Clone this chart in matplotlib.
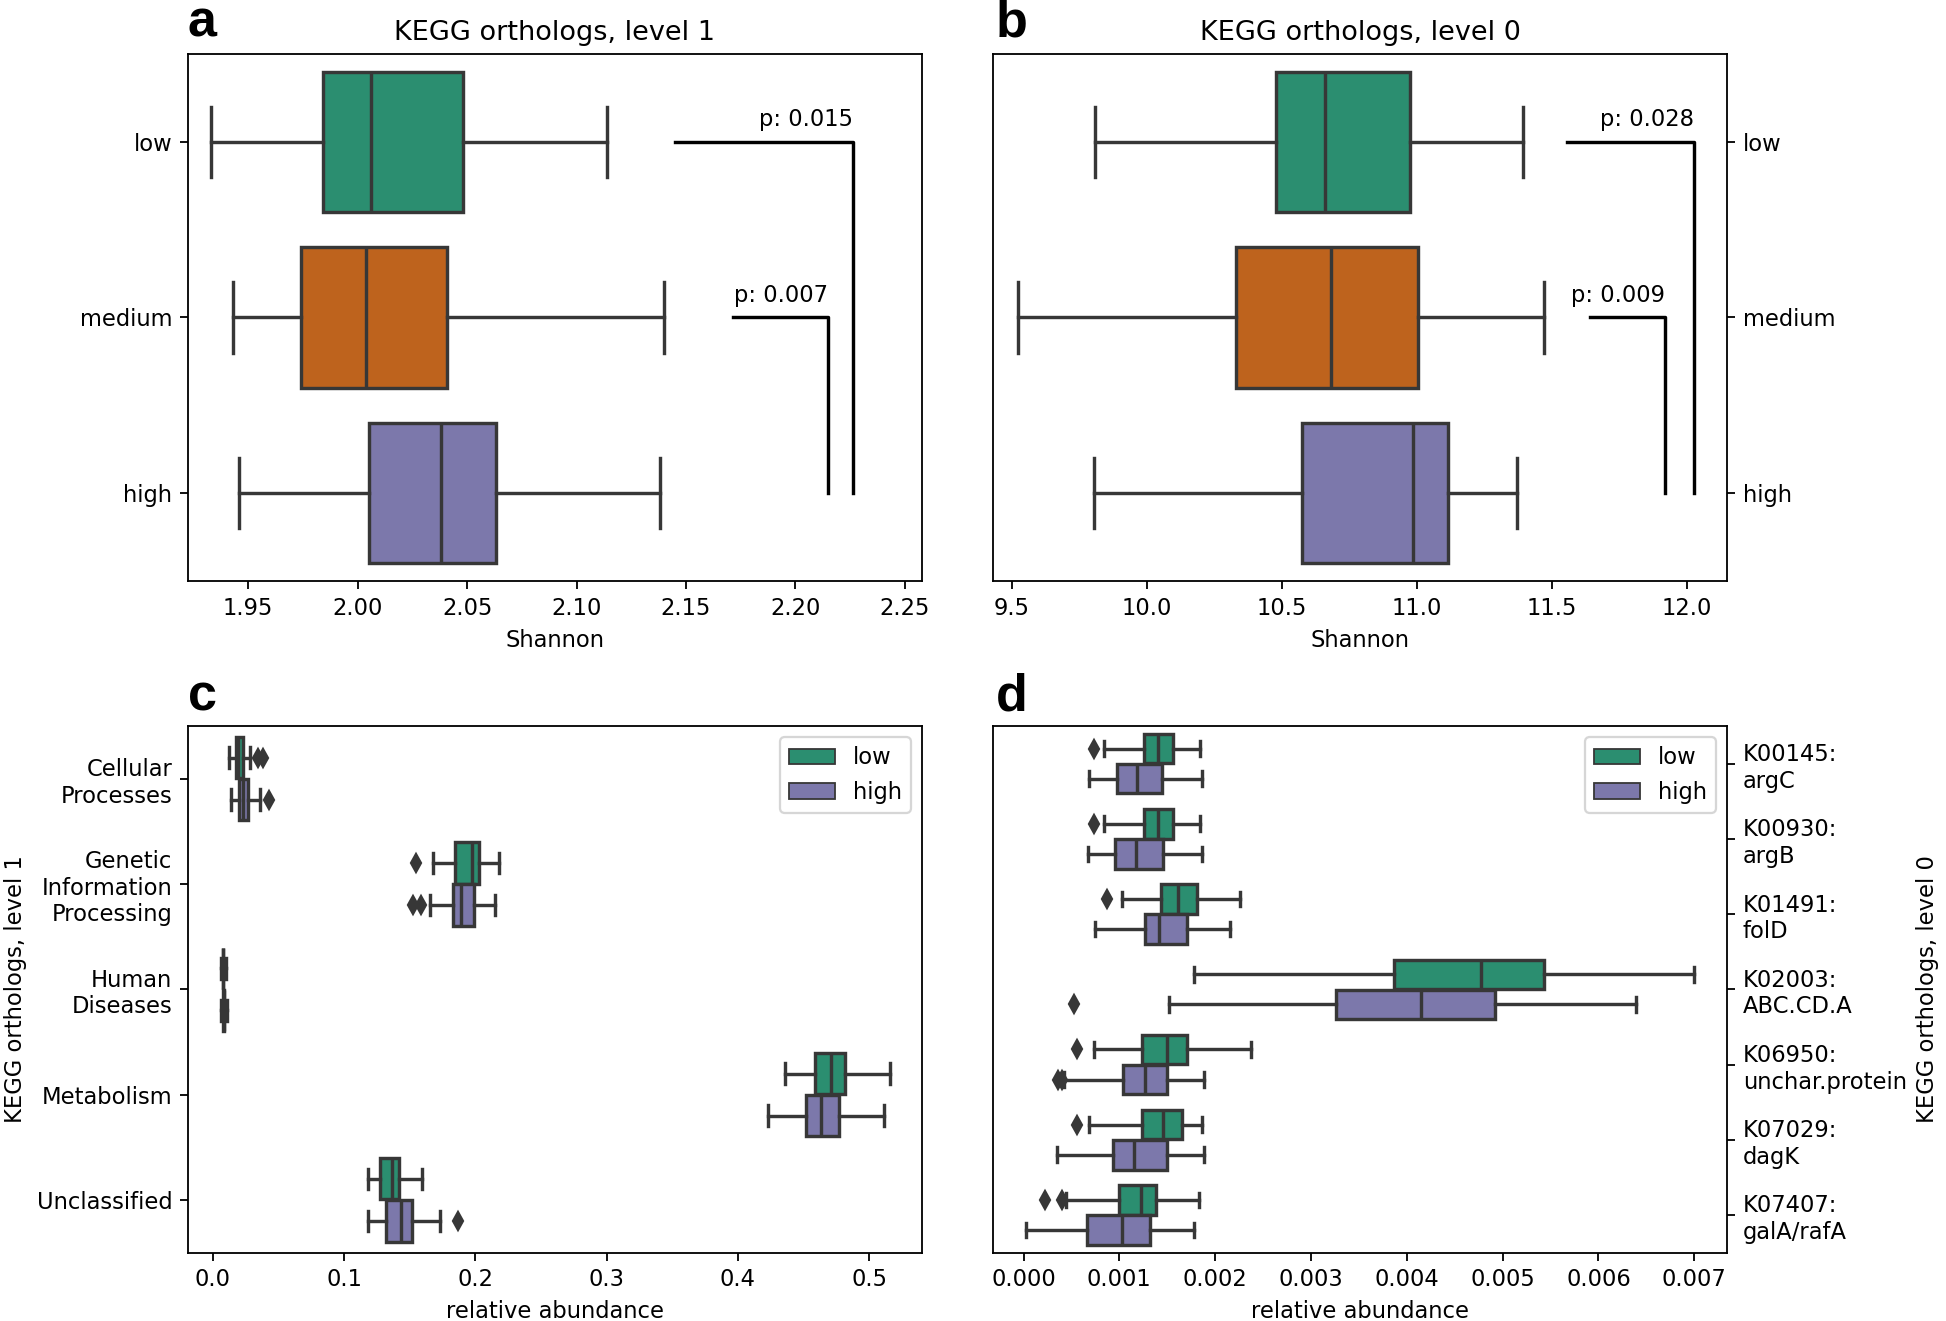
import matplotlib
matplotlib.use("Agg")
import matplotlib.pyplot as plt
from matplotlib.patches import Patch
from matplotlib.ticker import FormatStrFormatter
import seaborn as sns

# colours: Dark2 with seaborn's default 0.75 saturation
dark2 = sns.color_palette("Dark2", 3)
c_low, c_medium, c_high = [sns.desaturate(c, 0.75) for c in dark2]
gray = "#373737"

groups = ["low", "medium", "high"]

# panel a - Shannon, KEGG orthologs level 1
a_lo = [1.933, 1.943, 1.946]
a_q1 = [1.984, 1.974, 2.005]
a_med = [2.006, 2.004, 2.038]
a_q3 = [2.048, 2.041, 2.063]
a_hi = [2.114, 2.140, 2.138]
a_pvals = ["p: 0.015", "p: 0.007"]
a_from = [0, 1]          # bracket starts at this group, ends at "high"
a_start = [2.1448, 2.1715]
a_end = [2.2262, 2.2148]

# panel b - Shannon, KEGG orthologs level 0
b_lo = [9.810, 9.525, 9.804]
b_q1 = [10.480, 10.330, 10.574]
b_med = [10.659, 10.684, 10.986]
b_q3 = [10.974, 11.006, 11.117]
b_hi = [11.393, 11.473, 11.372]
b_pvals = ["p: 0.028", "p: 0.009"]
b_from = [0, 1]
b_start = [11.558, 11.644]
b_end = [12.028, 11.920]

# panel c - relative abundance, level 1 categories
c_cats = ["Cellular\nProcesses", "Genetic\nInformation\nProcessing",
          "Human\nDiseases", "Metabolism", "Unclassified"]
c_low_lo = [0.0125, 0.1679, 0.0062, 0.4361, 0.1183]
c_low_q1 = [0.0178, 0.1845, 0.0078, 0.4584, 0.1277]
c_low_med = [0.0190, 0.1977, 0.0079, 0.4711, 0.1367]
c_low_q3 = [0.0232, 0.2030, 0.0080, 0.4816, 0.1419]
c_low_hi = [0.0283, 0.2182, 0.0097, 0.5156, 0.1594]
c_low_fliers = [[0.0346, 0.038], [0.1547], [], [], []]
c_high_lo = [0.0138, 0.1651, 0.0062, 0.4229, 0.1183]
c_high_q1 = [0.0202, 0.1828, 0.0081, 0.4518, 0.1320]
c_high_med = [0.0232, 0.1890, 0.0083, 0.4636, 0.1433]
c_high_q3 = [0.0270, 0.1990, 0.0086, 0.4773, 0.1514]
c_high_hi = [0.0359, 0.2146, 0.0105, 0.5109, 0.1731]
c_high_fliers = [[0.043], [0.1523, 0.1585], [], [], [0.1864]]

# panel d - relative abundance, selected level 0 orthologs
d_cats = ["K00145:\nargC", "K00930:\nargB", "K01491:\nfolD", "K02003:\nABC.CD.A",
          "K06950:\nunchar.protein", "K07029:\ndagK", "K07407:\ngalA/rafA"]
d_low_lo = [0.000843, 0.000843, 0.001031, 0.001776, 0.000735, 0.000680, 0.000447]
d_low_q1 = [0.001257, 0.001257, 0.001432, 0.003863, 0.001240, 0.001232, 0.000992]
d_low_med = [0.001406, 0.001400, 0.001614, 0.004770, 0.001500, 0.001455, 0.001224]
d_low_q3 = [0.001562, 0.001562, 0.001808, 0.005431, 0.001710, 0.001656, 0.001387]
d_low_hi = [0.001847, 0.001847, 0.002262, 0.006994, 0.002370, 0.001867, 0.001830]
d_low_fliers = [[0.000739], [0.000739], [0.000875], [], [0.000560], [0.000560],
                [0.000220, 0.000400]]
d_high_lo = [0.000681, 0.000674, 0.000745, 0.001517, 0.000425, 0.000350, 0.000026]
d_high_q1 = [0.000972, 0.000959, 0.001264, 0.003260, 0.001040, 0.000932, 0.000665]
d_high_med = [0.001186, 0.001173, 0.001419, 0.004148, 0.001265, 0.001150, 0.001027]
d_high_q3 = [0.001445, 0.001452, 0.001711, 0.004926, 0.001502, 0.001502, 0.001320]
d_high_hi = [0.001867, 0.001867, 0.002152, 0.006397, 0.001883, 0.001883, 0.001776]
d_high_fliers = [[], [], [], [0.000531], [0.000365, 0.000400], [], []]


def draw_boxes(ax, lo, q1, med, q3, hi, fliers, positions, width, colors):
    stats = [dict(whislo=l, q1=a, med=m, q3=b, whishi=h, fliers=f)
             for l, a, m, b, h, f in zip(lo, q1, med, q3, hi, fliers)]
    art = ax.bxp(stats, positions=positions, widths=width,
                 orientation="horizontal", patch_artist=True, manage_ticks=False,
                 boxprops=dict(edgecolor=gray, linewidth=1.5),
                 medianprops=dict(color=gray, linewidth=1.5),
                 whiskerprops=dict(color=gray, linewidth=1.5),
                 capprops=dict(color=gray, linewidth=1.5),
                 flierprops=dict(marker="d", markerfacecolor=gray,
                                 markeredgecolor=gray, markersize=5.5,
                                 linestyle="none"))
    for patch, c in zip(art["boxes"], colors):
        patch.set_facecolor(c)


def brackets(ax, frm, start, end, pvals):
    for g, x0, x1, p in zip(frm, start, end, pvals):
        ax.plot([x0, x1, x1], [g, g, 2], color="black", lw=1.5)
        ax.text(x1, g - 0.06, p, ha="right", va="bottom", fontsize=10)


dpi = 163
fig = plt.figure(figsize=(1946 / dpi, 1321 / dpi), dpi=dpi)

ax_a = fig.add_axes([0.0966, 0.5603, 0.3772, 0.3988])
ax_b = fig.add_axes([0.5103, 0.5603, 0.3772, 0.3988])
ax_c = fig.add_axes([0.0966, 0.0518, 0.3772, 0.3986])
ax_d = fig.add_axes([0.5103, 0.0518, 0.3772, 0.3986])

three = [c_low, c_medium, c_high]

# a
draw_boxes(ax_a, a_lo, a_q1, a_med, a_q3, a_hi, [[], [], []], [0, 1, 2], 0.8, three)
brackets(ax_a, a_from, a_start, a_end, a_pvals)
ax_a.set_xlim(1.9225, 2.2578)
ax_a.set_title("KEGG orthologs, level 1", fontsize=12)
ax_a.set_xlabel("Shannon")

# b
draw_boxes(ax_b, b_lo, b_q1, b_med, b_q3, b_hi, [[], [], []], [0, 1, 2], 0.8, three)
brackets(ax_b, b_from, b_start, b_end, b_pvals)
ax_b.set_xlim(9.431, 12.150)
ax_b.set_title("KEGG orthologs, level 0", fontsize=12)
ax_b.set_xlabel("Shannon")
ax_b.yaxis.tick_right()

for ax in (ax_a, ax_b):
    ax.set_yticks(range(len(groups)))
    ax.set_yticklabels(groups)
    ax.set_ylim(len(groups) - 0.5, -0.5)

# c and d: low vs high, dodged
nw = 0.8 / 2 * 0.98
for ax, cats, low, high in [
        (ax_c, c_cats,
         (c_low_lo, c_low_q1, c_low_med, c_low_q3, c_low_hi, c_low_fliers),
         (c_high_lo, c_high_q1, c_high_med, c_high_q3, c_high_hi, c_high_fliers)),
        (ax_d, d_cats,
         (d_low_lo, d_low_q1, d_low_med, d_low_q3, d_low_hi, d_low_fliers),
         (d_high_lo, d_high_q1, d_high_med, d_high_q3, d_high_hi, d_high_fliers))]:
    n = len(cats)
    draw_boxes(ax, *low, [i - 0.2 for i in range(n)], nw, [c_low] * n)
    draw_boxes(ax, *high, [i + 0.2 for i in range(n)], nw, [c_high] * n)
    ax.set_yticks(range(n))
    ax.set_yticklabels(cats)
    ax.set_ylim(n - 0.5, -0.5)
    ax.set_xlabel("relative abundance")
    ax.legend(handles=[Patch(facecolor=c_low, edgecolor=gray, lw=0.8, label="low"),
                       Patch(facecolor=c_high, edgecolor=gray, lw=0.8, label="high")],
              loc="upper right")

ax_c.set_xlim(-0.0189, 0.5402)
ax_c.set_xticks([0.0, 0.1, 0.2, 0.3, 0.4, 0.5])
ax_c.set_ylabel("KEGG orthologs, level 1")

ax_d.set_xlim(-0.000318, 0.007343)
ax_d.set_xticks([0.000, 0.001, 0.002, 0.003, 0.004, 0.005, 0.006, 0.007])
ax_d.xaxis.set_major_formatter(FormatStrFormatter("%.3f"))
ax_d.yaxis.tick_right()
ax_d.yaxis.set_label_position("right")
ax_d.set_ylabel("KEGG orthologs, level 0")

# panel letters
for x, y, s in [(0.0966, 0.972, "a"), (0.5115, 0.972, "b"),
                (0.0966, 0.4621, "c"), (0.5115, 0.4621, "d")]:
    fig.text(x, y, s, fontsize=23, fontweight="bold", family="Liberation Sans",
             ha="left", va="baseline")

fig.savefig("out.png", dpi=dpi)
